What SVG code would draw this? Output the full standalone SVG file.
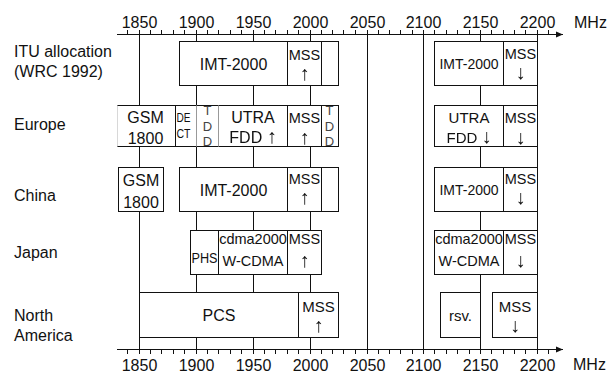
<svg xmlns="http://www.w3.org/2000/svg" width="615" height="375" viewBox="0 0 615 375">
<style>
text{font-family:"Liberation Sans",Arial,Helvetica,sans-serif;fill:#111}
.ax{font-size:16px;text-anchor:middle}
.lb{font-size:16px}
.c{text-anchor:middle}
.f16{font-size:16px}.f15{font-size:15px}.f145{font-size:14.5px}.f14{font-size:14px}.f135{font-size:13.5px}
.ar{font-family:"Liberation Sans",Arial,sans-serif;font-size:20px}
.gs{filter:url(#gray)}
.tdd{font-size:13px;fill:#444;text-anchor:middle}
.bx{fill:#fff;stroke:#111;stroke-width:1}
.ln{fill:none;stroke:#111;stroke-width:1}
.gl{fill:none;stroke:#999;stroke-width:1}
.fl{fill:none;stroke:#d8d8d8;stroke-width:1}
</style>
<defs>
<marker id="arr" markerWidth="8" markerHeight="8" refX="7" refY="4" orient="auto" markerUnits="userSpaceOnUse">
<path d="M0,1 L7,4 L0,7 Z" fill="#111"/>
</marker>
<filter id="gray" x="-50%" y="-50%" width="200%" height="200%" color-interpolation-filters="sRGB">
<feColorMatrix type="saturate" values="0"/>
</filter>
</defs>

<g id="connectors">
<path class="ln" d="M139.5 34.5V349.5M196.5 34.5V349.5M253.5 34.5V349.5M310.5 34.5V349.5M367.5 34.5V349.5M423.5 34.5V349.5M480.5 34.5V349.5M537.5 34.5V349.5"/>
</g>

<g id="axis-top">
<path class="ln" d="M117 34.5H563" marker-end="url(#arr)"/>
<path class="ln" d="M127.5 30V34.5M139.5 30V34.5M150.5 30V34.5M161.5 30V34.5M173.5 30V34.5M184.5 30V34.5M196.5 30V34.5M207.5 30V34.5M218.5 30V34.5M230.5 30V34.5M241.5 30V34.5M253.5 30V34.5M264.5 30V34.5M275.5 30V34.5M287.5 30V34.5M298.5 30V34.5M310.5 30V34.5M321.5 30V34.5M332.5 30V34.5M343.5 30V34.5M355.5 30V34.5M367.5 30V34.5M378.5 30V34.5M389.5 30V34.5M400.5 30V34.5M412.5 30V34.5M423.5 30V34.5M434.5 30V34.5M446.5 30V34.5M457.5 30V34.5M469.5 30V34.5M480.5 30V34.5M491.5 30V34.5M503.5 30V34.5M514.5 30V34.5M525.5 30V34.5M537.5 30V34.5M548.5 30V34.5"/>
<text class="ax" x="139.5" y="28">1850</text>
<text class="ax" x="196.5" y="28">1900</text>
<text class="ax" x="253.5" y="28">1950</text>
<text class="ax" x="310.5" y="28">2000</text>
<text class="ax" x="367.5" y="28">2050</text>
<text class="ax" x="423.5" y="28">2100</text>
<text class="ax" x="480.5" y="28">2150</text>
<text class="ax" x="537.5" y="28">2200</text>
<text class="lb" x="574" y="28">MHz</text>
</g>

<g id="axis-bottom">
<path class="ln" d="M117 349.5H563" marker-end="url(#arr)"/>
<path class="ln" d="M127.5 349.5V354M139.5 349.5V354M150.5 349.5V354M161.5 349.5V354M173.5 349.5V354M184.5 349.5V354M196.5 349.5V354M207.5 349.5V354M218.5 349.5V354M230.5 349.5V354M241.5 349.5V354M253.5 349.5V354M264.5 349.5V354M275.5 349.5V354M287.5 349.5V354M298.5 349.5V354M310.5 349.5V354M321.5 349.5V354M332.5 349.5V354M343.5 349.5V354M355.5 349.5V354M367.5 349.5V354M378.5 349.5V354M389.5 349.5V354M400.5 349.5V354M412.5 349.5V354M423.5 349.5V354M434.5 349.5V354M446.5 349.5V354M457.5 349.5V354M469.5 349.5V354M480.5 349.5V354M491.5 349.5V354M503.5 349.5V354M514.5 349.5V354M525.5 349.5V354M537.5 349.5V354M548.5 349.5V354"/>
<text class="ax" x="139.5" y="371">1850</text>
<text class="ax" x="196.5" y="371">1900</text>
<text class="ax" x="253.5" y="371">1950</text>
<text class="ax" x="310.5" y="371">2000</text>
<text class="ax" x="367.5" y="371">2050</text>
<text class="ax" x="423.5" y="371">2100</text>
<text class="ax" x="480.5" y="371">2150</text>
<text class="ax" x="537.5" y="371">2200</text>
<text class="lb" x="573" y="370">MHz</text>
</g>

<g id="row-labels">
<g id="lbl-itu"><text class="lb" x="14" y="57">ITU allocation</text><text class="lb" x="14" y="77">(WRC 1992)</text></g>
<g id="lbl-europe"><text class="lb" x="14" y="130">Europe</text></g>
<g id="lbl-china"><text class="lb" x="14" y="201">China</text></g>
<g id="lbl-japan"><text class="lb" x="14" y="258">Japan</text></g>
<g id="lbl-na"><text class="lb" x="14" y="321">North</text><text class="lb" x="14" y="341">America</text></g>
</g>

<!-- ITU row -->
<g id="itu-imt"><rect class="bx" x="179.5" y="41.5" width="108" height="44"/><text class="c f16" x="233.5" y="70">IMT-2000</text></g>
<g id="itu-mss-up"><rect class="bx" x="287.5" y="41.5" width="34" height="44"/><text class="c f145" x="304.5" y="60">MSS</text><text class="c ar gs" x="304.5" y="80">↑</text></g>
<g id="itu-empty"><rect class="bx" x="321.5" y="41.5" width="17" height="44"/></g>
<g id="itu-imt2"><rect class="bx" x="434.5" y="41.5" width="69" height="44"/><text class="c f14" x="469" y="69">IMT-2000</text></g>
<g id="itu-mss-dn"><rect class="bx" x="503.5" y="41.5" width="34" height="44"/><text class="c f145" x="520.5" y="59">MSS</text><text class="c ar gs" x="520.5" y="79">↓</text></g>

<!-- Europe row -->
<g id="eu-gsm"><path class="bx" d="M117 105.5H175.5V146.5H117"/><path class="fl" d="M117.5 105.5V146.5"/><text class="c f16" x="145.5" y="122.5">GSM</text><text class="c f16" x="145.5" y="144">1800</text></g>
<g id="eu-dect"><rect class="bx" x="175.5" y="105.5" width="21" height="41"/><text class="f135" x="176.5" y="122" textLength="14" lengthAdjust="spacingAndGlyphs">DE</text><text class="f135" x="176.5" y="137.5" textLength="14" lengthAdjust="spacingAndGlyphs">CT</text></g>
<g id="eu-utra"><rect class="bx" x="218.5" y="105.5" width="69" height="41"/><text class="c f16" x="253" y="123">UTRA</text><text class="c f16 gs" x="253" y="143">FDD <tspan class="ar">↑</tspan></text></g>
<g id="eu-tdd1"><path class="bx" d="M196.5 105.5H218.5V146.5H196.5Z" style="stroke:none"/><path class="ln" d="M196.5 105.5H218.5M196.5 146.5H218.5"/><path class="gl" d="M196.5 105.5V146.5M218.5 105.5V146.5"/><text class="tdd" x="207.5" y="115">T</text><text class="tdd" x="207.5" y="131">D</text><text class="tdd" x="207.5" y="145.5">D</text></g>
<g id="eu-mss-up"><rect class="bx" x="287.5" y="105.5" width="34" height="41"/><text class="c f145" x="304.5" y="123">MSS</text><text class="c ar gs" x="304.5" y="144">↑</text></g>
<g id="eu-tdd2"><rect class="bx" x="321.5" y="105.5" width="17" height="41"/><text class="tdd" x="329.5" y="115">T</text><text class="tdd" x="329.5" y="131">D</text><text class="tdd" x="329.5" y="145.5">D</text></g>
<g id="eu-utra2"><rect class="bx" x="434.5" y="105.5" width="69" height="41"/><text class="c f15" x="469" y="123">UTRA</text><text class="c f15 gs" x="469" y="143">FDD <tspan class="ar">↓</tspan></text></g>
<g id="eu-mss-dn"><rect class="bx" x="503.5" y="105.5" width="34" height="41"/><text class="c f145" x="520.5" y="123">MSS</text><text class="c ar gs" x="520.5" y="144">↓</text></g>

<!-- China row -->
<g id="cn-gsm"><rect class="bx" x="118.5" y="167.5" width="45" height="44"/><text class="c f16" x="141" y="185.5">GSM</text><text class="c f16" x="141" y="208">1800</text></g>
<g id="cn-imt"><rect class="bx" x="179.5" y="167.5" width="108" height="44"/><text class="c f16" x="233.5" y="196">IMT-2000</text></g>
<g id="cn-mss-up"><rect class="bx" x="287.5" y="167.5" width="34" height="44"/><text class="c f145" x="304.5" y="184">MSS</text><text class="c ar gs" x="304.5" y="204">↑</text></g>
<g id="cn-empty"><rect class="bx" x="321.5" y="167.5" width="17" height="44"/></g>
<g id="cn-imt2"><rect class="bx" x="434.5" y="167.5" width="69" height="44"/><text class="c f14" x="469" y="195">IMT-2000</text></g>
<g id="cn-mss-dn"><rect class="bx" x="503.5" y="167.5" width="34" height="44"/><text class="c f145" x="520.5" y="184">MSS</text><text class="c ar gs" x="520.5" y="204">↓</text></g>

<!-- Japan row -->
<g id="jp-phs"><rect class="bx" x="190.5" y="230.5" width="28" height="44"/><text class="c f15" x="204.5" y="263" textLength="26" lengthAdjust="spacingAndGlyphs">PHS</text></g>
<g id="jp-cdma"><rect class="bx" x="218.5" y="230.5" width="69" height="44"/><text class="c f145" x="253" y="243.5">cdma2000</text><text class="c f145" x="253" y="266">W-CDMA</text></g>
<g id="jp-mss-up"><rect class="bx" x="287.5" y="230.5" width="34" height="44"/><text class="c f145" x="304.5" y="243.5">MSS</text><text class="c ar gs" x="304.5" y="267">↑</text></g>
<g id="jp-cdma2"><rect class="bx" x="434.5" y="230.5" width="69" height="44"/><text class="c f145" x="469" y="243.5">cdma2000</text><text class="c f145" x="469" y="266">W-CDMA</text></g>
<g id="jp-mss-dn"><rect class="bx" x="503.5" y="230.5" width="34" height="44"/><text class="c f145" x="520.5" y="243.5">MSS</text><text class="c ar gs" x="520.5" y="267">↓</text></g>

<!-- North America row -->
<g id="na-pcs"><rect class="bx" x="139.5" y="292.5" width="159" height="45"/><text class="c f16" x="219" y="321">PCS</text></g>
<g id="na-mss-up"><rect class="bx" x="298.5" y="292.5" width="40" height="45"/><text class="c f15" x="318.5" y="312">MSS</text><text class="c ar gs" x="318.5" y="332">↑</text></g>
<g id="na-rsv"><rect class="bx" x="440.5" y="292.5" width="40" height="45"/><text class="c f15" x="460.5" y="321">rsv.</text></g>
<g id="na-mss-dn"><rect class="bx" x="492.5" y="292.5" width="45" height="45"/><text class="c f15" x="515" y="312">MSS</text><text class="c ar gs" x="515" y="332">↓</text></g>
</svg>
